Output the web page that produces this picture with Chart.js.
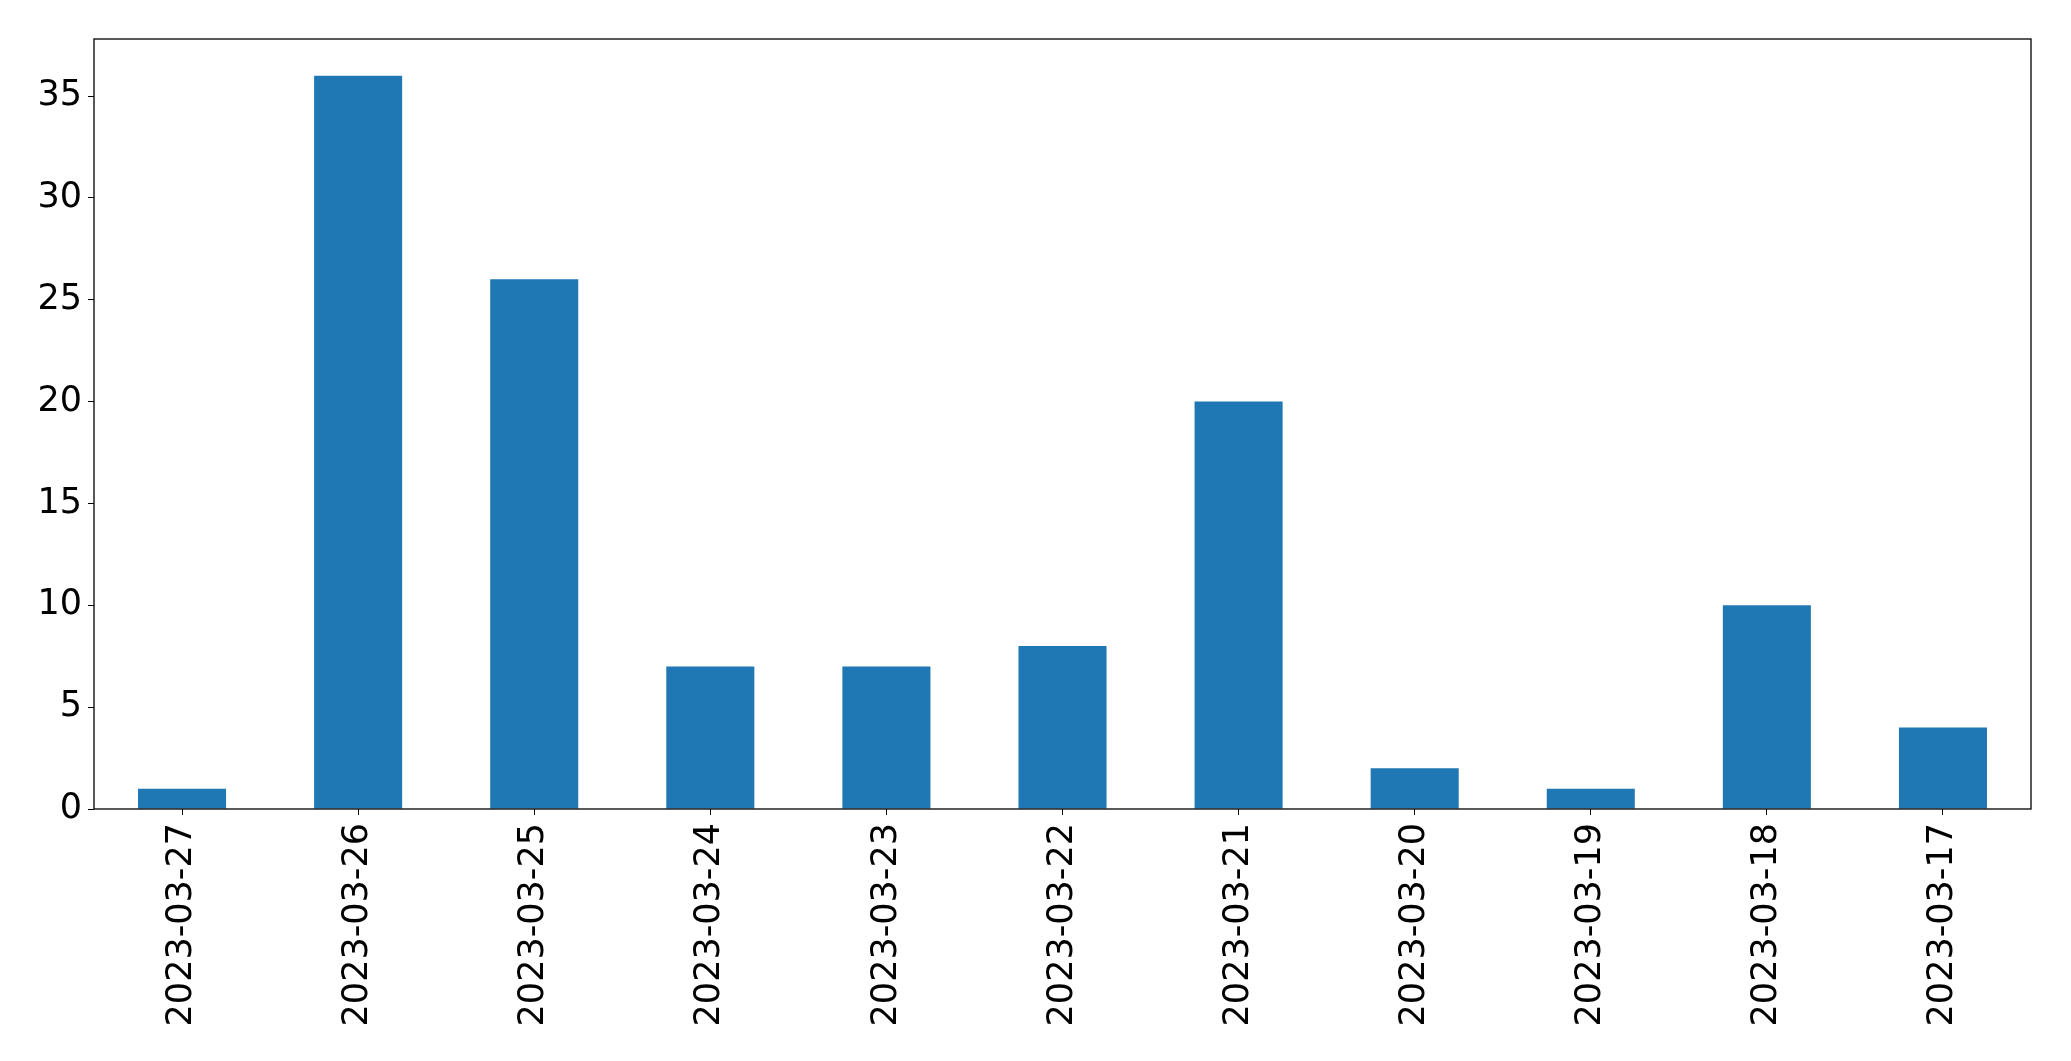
<!DOCTYPE html>
<html>
<head>
<meta charset="utf-8">
<script src="https://cdn.jsdelivr.net/npm/chart.js@4/dist/chart.umd.min.js"></script>
<style>
    html, body { margin: 0; padding: 0; background: #ffffff; }
    #wrap { width: 2071px; height: 1061px; }
</style>
</head>
<body>
<div id="wrap"><canvas id="BarChart" width="2071" height="1061"></canvas></div>
<script>
let dateLabels = ['2023-03-27', '2023-03-26', '2023-03-25', '2023-03-24', '2023-03-23', '2023-03-22',
    '2023-03-21', '2023-03-20', '2023-03-19', '2023-03-18', '2023-03-17'];
let countValues = [1, 36, 26, 7, 7, 8, 20, 2, 1, 10, 4];
let yTickStep = 5;
let yMax = 37.8;

let barColor = '#1f77b4';
let axisFont = { family: '"DejaVu Sans", sans-serif', size: 35 };

// draws the closed matplotlib style frame round the plot
let framePlugin = {
    id: 'frame',
    afterDraw: function (chart) {
        let area = chart.chartArea;
        let ctx = chart.ctx;
        ctx.save();
        ctx.strokeStyle = '#000000';
        ctx.lineWidth = 1.3;
        ctx.strokeRect(area.left, area.top, area.right - area.left, area.bottom - area.top);
        ctx.restore();
    }
};

function GetBarChartConfig() {
    return {
        type: 'bar',
        data: {
            labels: dateLabels,
            datasets: [{
                data: countValues,
                backgroundColor: barColor,
                borderWidth: 0,
                categoryPercentage: 0.5,
                barPercentage: 1.0
            }]
        },
        options: {
            responsive: false,
            animation: false,
            layout: { padding: { left: 0, right: 40, top: 39, bottom: 0 } },
            plugins: {
                legend: { display: false },
                tooltip: { enabled: false }
            },
            scales: {
                x: {
                    offset: true,
                    grid: { display: true, drawOnChartArea: false, drawTicks: true, tickLength: 6, color: '#000000', offset: false },
                    border: { display: false },
                    ticks: {
                        color: '#000000',
                        font: axisFont,
                        minRotation: 90,
                        maxRotation: 90,
                        autoSkip: false,
                        padding: 8
                    },
                    afterFit: function (scale) { scale.height = 1061 - 809; }
                },
                y: {
                    min: 0,
                    max: yMax,
                    grid: { display: true, drawOnChartArea: false, drawTicks: true, tickLength: 6, color: '#000000' },
                    border: { display: false },
                    ticks: {
                        color: '#000000',
                        font: axisFont,
                        stepSize: yTickStep,
                        includeBounds: false,
                        padding: 6
                    },
                    afterFit: function (scale) { scale.width = 94; }
                }
            }
        },
        plugins: [framePlugin]
    };
}

window.barChart = new Chart(document.getElementById('BarChart').getContext('2d'), GetBarChartConfig());
</script>
</body>
</html>
